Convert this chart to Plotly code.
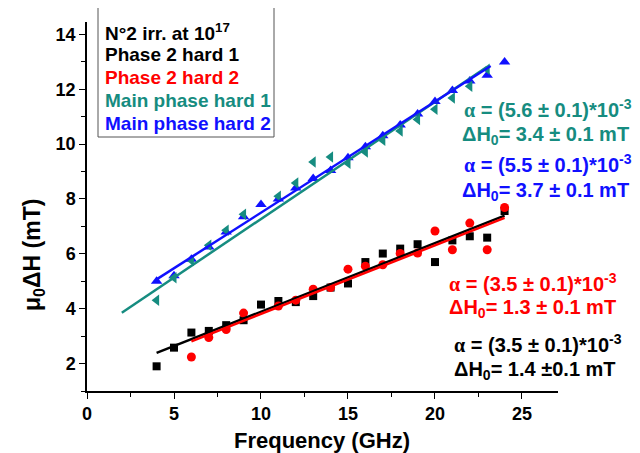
import plotly.graph_objects as go

# ---------------- data ----------------
freq_black = [4, 5, 6, 7, 8, 9, 10, 11, 12, 13, 14, 15, 16, 17, 18, 19, 20, 21, 22, 23, 24]
dh_black = [1.90, 2.58, 3.13, 3.19, 3.40, 3.58, 4.15, 4.28, 4.24, 4.46, 4.77, 4.92, 5.70, 6.01, 6.19, 6.35, 5.70, 6.49, 6.64, 6.59, 7.56]

freq_red = [6, 7, 8, 9, 11, 12, 13, 14, 15, 16, 17, 18, 19, 20, 21, 22, 23, 24]
dh_red = [2.24, 2.95, 3.24, 3.84, 4.10, 4.31, 4.71, 4.77, 5.44, 5.55, 5.60, 6.01, 6.03, 6.83, 6.15, 7.12, 6.15, 7.69]

freq_teal = [4, 5, 6, 7, 8, 9, 11, 12, 13, 14, 15, 16, 17, 18, 19, 20, 21, 22, 23]
dh_teal = [4.31, 5.13, 5.76, 6.31, 6.86, 7.44, 8.10, 8.58, 9.35, 9.53, 9.30, 9.71, 10.14, 10.48, 10.90, 11.27, 11.68, 12.11, 12.73]

freq_blue = [4, 5, 6, 7, 8, 9, 10, 11, 12, 13, 14, 15, 16, 17, 18, 19, 20, 21, 22, 23, 24]
dh_blue = [5.00, 5.20, 5.80, 6.25, 6.80, 7.35, 7.80, 8.00, 8.40, 8.75, 9.04, 9.50, 9.90, 10.30, 10.70, 11.10, 11.55, 11.95, 12.30, 12.51, 12.99]

# linear fits: [x_start, x_end], intercept, slope
fit_black = dict(xr=[4, 24], b=1.39, m=0.25)
fit_red = dict(xr=[6, 24], b=1.31, m=0.25)
fit_teal = dict(xr=[2, 23], b=3.0, m=0.427)
fit_blue = dict(xr=[4, 23.2], b=3.45, m=0.405)

legend_lines = ["N°2 irr. at 10<sup>17</sup>", "Phase 2 hard 1", "Phase 2 hard 2",
                "Main phase hard 1", "Main phase hard 2"]

x_ticks = [0, 5, 10, 15, 20, 25]
y_ticks = [2, 4, 6, 8, 10, 12, 14]

BLACK = "#000000"
RED = "#ff0000"
TEAL = "#168c80"
BLUE = "#1010ff"
FONT = "Liberation Sans, Arial, sans-serif"

fig = go.Figure()


def fit_xy(f):
    xs = list(f["xr"])
    ys = [f["b"] + f["m"] * x for x in xs]
    return xs, ys


# markers
fig.add_trace(go.Scatter(x=freq_black, y=dh_black, mode="markers",
                         marker=dict(symbol="square", size=8, color=BLACK)))
fig.add_trace(go.Scatter(x=freq_red, y=dh_red, mode="markers",
                         marker=dict(symbol="circle", size=9, color=RED)))
fig.add_trace(go.Scatter(x=freq_blue, y=dh_blue, mode="markers",
                         marker=dict(symbol="triangle-up", size=10, color=BLUE)))
fig.add_trace(go.Scatter(x=freq_teal, y=dh_teal, mode="markers",
                         marker=dict(symbol="triangle-left", size=10, color=TEAL)))

# fit lines
for f, c in [(fit_teal, TEAL), (fit_blue, BLUE), (fit_black, BLACK), (fit_red, RED)]:
    xs, ys = fit_xy(f)
    fig.add_trace(go.Scatter(x=xs, y=ys, mode="lines", line=dict(color=c, width=2.5)))

# page body has an 8px margin; figure is 632x445 placed at (8, 8)
FW, FH = 632, 445
L, T, W, H = 79, 14, 471, 369


def px(xp):  # screen pixel -> paper
    return (xp - 8 - L) / W


def py(yp):
    return (T + H - (yp - 8)) / H


annotations = []
leg_colors = [BLACK, BLACK, RED, TEAL, BLUE]
leg_y = [32, 54, 77, 100, 123]
for txt, c, yy in zip(legend_lines, leg_colors, leg_y):
    annotations.append(dict(xref="paper", yref="paper", x=px(103), y=py(yy), text=txt,
                            showarrow=False, xanchor="left", yanchor="middle",
                            font=dict(family=FONT, size=19, color=c, weight="bold")))

A = '<span style="font-family:Liberation Serif, Times New Roman, serif">α</span>'
right_texts = [
    (A + " = (5.6 ± 0.1)*10<sup>-3</sup>", TEAL, 462, 108),
    ("ΔH<sub>0</sub>= 3.4 ± 0.1 mT", TEAL, 460, 135),
    (A + " = (5.5 ± 0.1)*10<sup>-3</sup>", BLUE, 462, 163),
    ("ΔH<sub>0</sub>= 3.7 ± 0.1 mT", BLUE, 460, 191),
    (A + " = (3.5 ± 0.1)*10<sup>-3</sup>", RED, 447, 282),
    ("ΔH<sub>0</sub>= 1.3 ± 0.1 mT", RED, 447, 308),
    (A + " = (3.5 ± 0.1)*10<sup>-3</sup>", BLACK, 452, 343),
    ("ΔH<sub>0</sub>= 1.4 ±0.1 mT", BLACK, 452, 370),
]
for txt, c, xx, yy in right_texts:
    annotations.append(dict(xref="paper", yref="paper", x=px(xx), y=py(yy), text=txt,
                            showarrow=False, xanchor="left", yanchor="middle",
                            font=dict(family=FONT, size=20, color=c, weight="bold")))

# axis titles
annotations.append(dict(xref="paper", yref="paper", x=px(322), y=py(440), text="Frequency (GHz)",
                        showarrow=False, xanchor="center", yanchor="middle",
                        font=dict(family=FONT, size=22, color=BLACK, weight="bold")))
annotations.append(dict(xref="paper", yref="paper", x=px(33), y=py(255), text="μ<sub>0</sub>ΔH (mT)",
                        showarrow=False, xanchor="center", yanchor="middle", textangle=-90,
                        font=dict(family=FONT, size=23, color=BLACK, weight="bold")))

shapes = [dict(type="rect", xref="paper", yref="paper", x0=px(98), x1=px(274), y0=py(137), y1=py(7),
               line=dict(color="#555555", width=1), fillcolor="rgba(0,0,0,0)")]

axis_common = dict(ticks="outside", ticklen=6, tickwidth=1.2, tickcolor=BLACK,
                   showline=True, linecolor=BLACK, linewidth=1.5, showgrid=False, zeroline=False,
                   tickfont=dict(family=FONT, size=18, color=BLACK, weight="bold"))

fig.update_layout(
    width=FW, height=FH,
    margin=dict(l=L, r=FW - L - W, t=T, b=FH - T - H),
    paper_bgcolor="white", plot_bgcolor="white",
    showlegend=False,
    annotations=annotations,
    shapes=shapes,
    xaxis=dict(range=[0, 27.07], tickvals=x_ticks,
               minor=dict(dtick=2.5, tick0=0, ticks="outside", ticklen=4, tickwidth=1.2, tickcolor=BLACK),
               **axis_common),
    yaxis=dict(range=[1.0, 14.45], tickvals=y_ticks,
               minor=dict(dtick=1, tick0=0, ticks="outside", ticklen=4, tickwidth=1.2, tickcolor=BLACK),
               **axis_common),
)

fig.write_html("out.html")
